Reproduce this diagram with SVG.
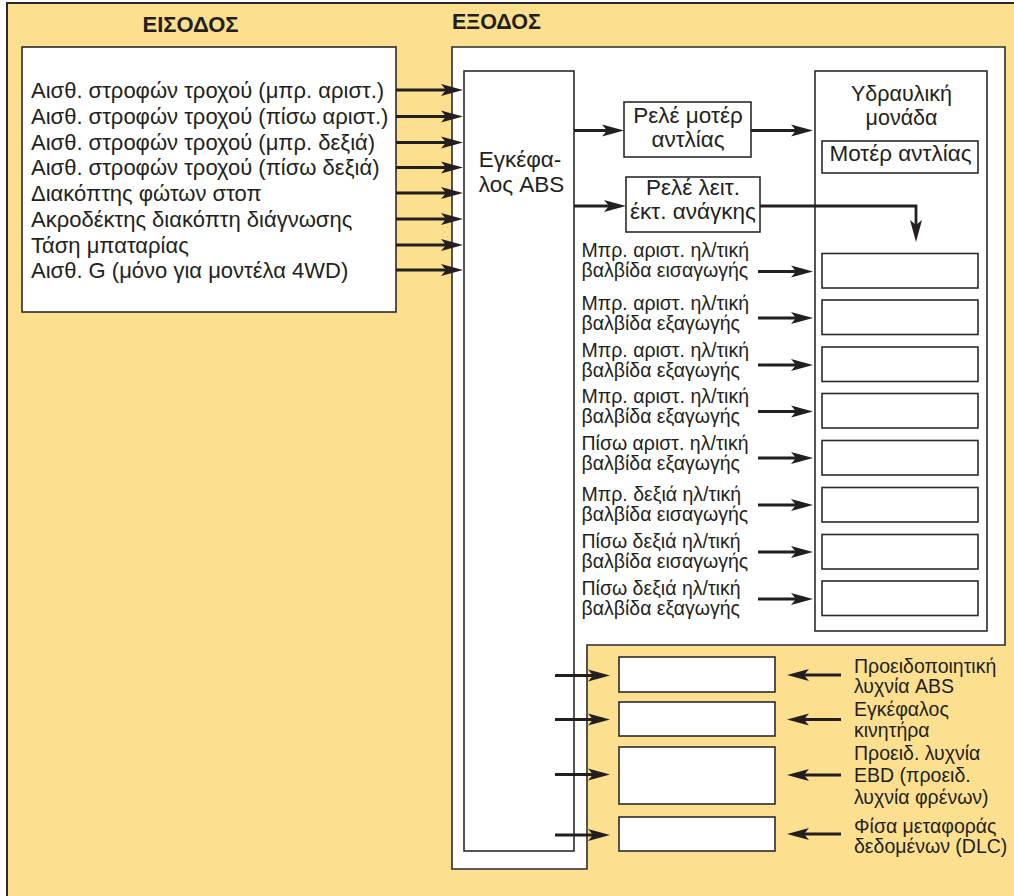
<svg xmlns="http://www.w3.org/2000/svg" width="1014" height="896" viewBox="0 0 1014 896">
<defs>
<style>
.t{font-family:"Liberation Sans","Noto Sans",Arial,sans-serif;font-size:19.5px;fill:#231f20}
.l{font-size:22px}
.m{font-size:22.5px}
.h{font-family:"Liberation Sans","Noto Sans",Arial,sans-serif;font-size:22px;font-weight:bold;fill:#231f20}
.c{text-anchor:middle}
.box{fill:#fff;stroke:#2b2b2b;stroke-width:1.6}
.ln{fill:none;stroke:#231f20;stroke-width:2.8;marker-end:url(#ah)}
</style>
<marker id="ah" markerUnits="userSpaceOnUse" markerWidth="24" markerHeight="14" refX="14" refY="6" orient="auto" overflow="visible">
<path d="M0,0 L22,6 L0,12 L5,6 Z" fill="#231f20"/>
</marker>
</defs>
<rect id="frame" x="7" y="3" width="1030" height="910" fill="#fde08f" stroke="#2b2b2b" stroke-width="2"/>
<g id="titles">
<text class="h c" x="190.5" y="32">ΕΙΣΟΔΟΣ</text>
<text class="h" x="452" y="29" style="font-size:21.5px">ΕΞΟΔΟΣ</text>
</g>
<g id="input">
<rect class="box" x="22" y="47" width="374" height="265"/>
<text class="t l" x="31" y="97.5">Αισθ. στροφών τροχού (μπρ. αριστ.)</text>
<text class="t l" x="31" y="124">Αισθ. στροφών τροχού (πίσω αριστ.)</text>
<text class="t l" x="31" y="150">Αισθ. στροφών τροχού (μπρ. δεξιά)</text>
<text class="t l" x="31" y="175">Αισθ. στροφών τροχού (πίσω δεξιά)</text>
<text class="t l" x="31" y="201">Διακόπτης φώτων στοπ</text>
<text class="t l" x="31" y="226.5">Ακροδέκτης διακόπτη διάγνωσης</text>
<text class="t l" x="31" y="252.5">Τάση μπαταρίας</text>
<text class="t l" x="31" y="277.5">Αισθ. G (μόνο για μοντέλα 4WD)</text>
</g>
<g id="output">
<path class="box" d="M452,47 H1005 V645 H587 V869 H452 Z"/>
</g>
<g id="ecu">
<rect class="box" x="464" y="71" width="110" height="780"/>
<text class="t m c" x="520" y="167">Εγκέφα-</text>
<text class="t m c" x="521.5" y="192">λος ABS</text>
</g>
<g id="relay1">
<rect class="box" x="624" y="102" width="127" height="55"/>
<text class="t m c" x="688" y="123">Ρελέ μοτέρ</text>
<text class="t m c" x="688" y="147">αντλίας</text>
</g>
<g id="relay2">
<rect class="box" x="626" y="177" width="134" height="55"/>
<text class="t m c" x="693" y="195">Ρελέ λειτ.</text>
<text class="t m c" x="693" y="219">έκτ. ανάγκης</text>
</g>
<g id="hydraulic">
<rect class="box" x="815" y="71" width="172" height="560"/>
<text class="t c" x="901.5" y="101" style="font-size:21.5px">Υδραυλική</text>
<text class="t c" x="901.5" y="125" style="font-size:21.5px">μονάδα</text>
</g>
<g id="pump-motor">
<rect class="box" x="822" y="141" width="156" height="32"/>
<text class="t m c" x="900.5" y="161">Μοτέρ αντλίας</text>
</g>
<g id="valves">
<rect class="box" x="822" y="253.5" width="156" height="34.5"/>
<rect class="box" x="822" y="300" width="156" height="34.5"/>
<rect class="box" x="822" y="347" width="156" height="34.5"/>
<rect class="box" x="822" y="393.5" width="156" height="34.5"/>
<rect class="box" x="822" y="440.5" width="156" height="34.5"/>
<rect class="box" x="822" y="487.5" width="156" height="34.5"/>
<rect class="box" x="822" y="534.5" width="156" height="34.5"/>
<rect class="box" x="822" y="581" width="156" height="34.5"/>
</g>
<g id="valve-labels">
<text class="t" x="581.5" y="257">Μπρ. αριστ. ηλ/τική</text>
<text class="t" x="581.5" y="277">βαλβίδα εισαγωγής</text>
<text class="t" x="581.5" y="310">Μπρ. αριστ. ηλ/τική</text>
<text class="t" x="581.5" y="330">βαλβίδα εξαγωγής</text>
<text class="t" x="581.5" y="357">Μπρ. αριστ. ηλ/τική</text>
<text class="t" x="581.5" y="377">βαλβίδα εξαγωγής</text>
<text class="t" x="581.5" y="403">Μπρ. αριστ. ηλ/τική</text>
<text class="t" x="581.5" y="423">βαλβίδα εξαγωγής</text>
<text class="t" x="581.5" y="450">Πίσω αριστ. ηλ/τική</text>
<text class="t" x="581.5" y="470">βαλβίδα εξαγωγής</text>
<text class="t" x="581.5" y="501">Μπρ. δεξιά ηλ/τική</text>
<text class="t" x="581.5" y="521">βαλβίδα εισαγωγής</text>
<text class="t" x="581.5" y="548">Πίσω δεξιά ηλ/τική</text>
<text class="t" x="581.5" y="568">βαλβίδα εισαγωγής</text>
<text class="t" x="581.5" y="595">Πίσω δεξιά ηλ/τική</text>
<text class="t" x="581.5" y="615">βαλβίδα εξαγωγής</text>
</g>
<g id="lower-boxes">
<rect class="box" x="619" y="657" width="156" height="35"/>
<rect class="box" x="619" y="702" width="156" height="34"/>
<rect class="box" x="619" y="747" width="156" height="57"/>
<rect class="box" x="619" y="817" width="156" height="34"/>
</g>
<g id="lower-labels">
<text class="t" x="854" y="673">Προειδοποιητική</text>
<text class="t" x="854" y="693">λυχνία ABS</text>
<text class="t" x="854" y="716">Εγκέφαλος</text>
<text class="t" x="854" y="737">κινητήρα</text>
<text class="t" x="854" y="760">Προειδ. λυχνία</text>
<text class="t" x="854" y="782">EBD (προειδ.</text>
<text class="t" x="854" y="804">λυχνία φρένων)</text>
<text class="t" x="854" y="833">Φίσα μεταφοράς</text>
<text class="t" x="854" y="853">δεδομένων (DLC)</text>
</g>
<g id="connectors">
<path class="ln" d="M396,90 H455"/>
<path class="ln" d="M396,116.5 H455"/>
<path class="ln" d="M396,142.5 H455"/>
<path class="ln" d="M396,167.5 H455"/>
<path class="ln" d="M396,193 H455"/>
<path class="ln" d="M396,219 H455"/>
<path class="ln" d="M396,245 H455"/>
<path class="ln" d="M396,270 H455"/>
<path class="ln" d="M574,130.5 H616"/>
<path class="ln" d="M751,130.5 H805"/>
<path class="ln" d="M574,206 H618"/>
<path class="ln" d="M760,206 H916 V234"/>
<path class="ln" d="M758,271.5 H805"/>
<path class="ln" d="M758,318 H805"/>
<path class="ln" d="M758,365 H805"/>
<path class="ln" d="M758,411.5 H805"/>
<path class="ln" d="M758,458 H805"/>
<path class="ln" d="M758,505 H805"/>
<path class="ln" d="M758,552 H805"/>
<path class="ln" d="M758,599 H805"/>
<path class="ln" d="M555,675.5 H602"/>
<path class="ln" d="M555,719.5 H602"/>
<path class="ln" d="M555,774.5 H602"/>
<path class="ln" d="M555,835 H602"/>
<path class="ln" d="M841,675 H795"/>
<path class="ln" d="M841,719.5 H795"/>
<path class="ln" d="M841,775 H795"/>
<path class="ln" d="M841,834 H795"/>
</g>
</svg>
